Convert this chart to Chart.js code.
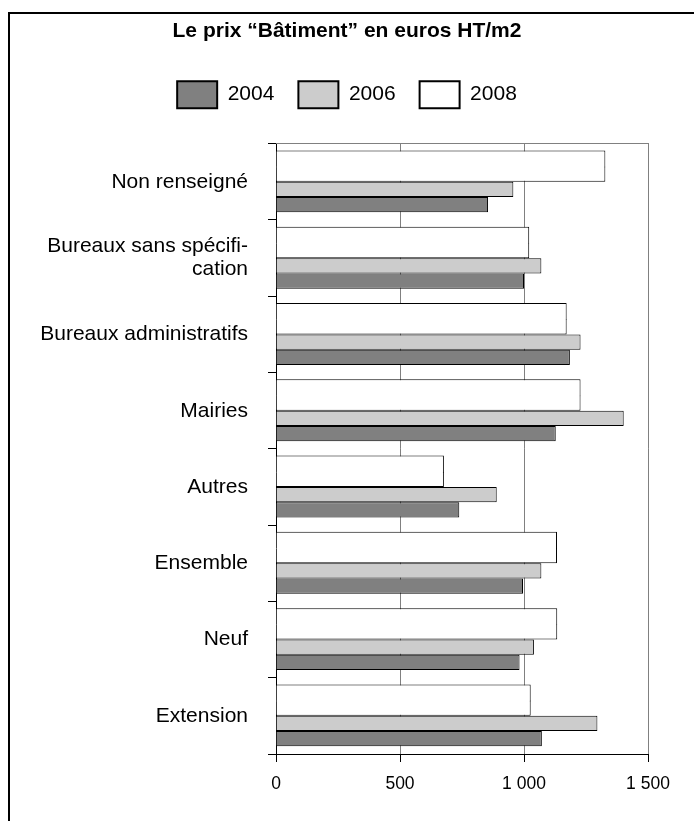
<!DOCTYPE html>
<html>
<head>
<meta charset="utf-8">
<script src="https://cdn.jsdelivr.net/npm/chart.js@4"></script>
<style>
  html, body { margin: 0; padding: 0; background: #fff; }
  #wrap { position: absolute; left: 0; top: 0; width: 694px; height: 821px; }
  #cadre { position: absolute; left: 8px; top: 12px; right: 0; bottom: 0;
           border-left: 2px solid #000; border-top: 2px solid #000; pointer-events: none; }
</style>
</head>
<body>
<div id="wrap"><canvas id="graficoPrix" width="694" height="821"></canvas></div>
<div id="cadre"></div>
<script>
const categories = ['Non renseigné', ['Bureaux sans spécifi-', 'cation'], 'Bureaux administratifs',
  'Mairies', 'Autres', 'Ensemble', 'Neuf', 'Extension'];
const valeurs2004 = [855, 1000, 1185, 1128, 739, 996, 982, 1072];
const valeurs2006 = [957, 1070, 1228, 1402, 890, 1070, 1040, 1296];
const valeurs2008 = [1328, 1021, 1172, 1228, 677, 1133, 1134, 1027];
const ticksX = [0, 500, 1000, 1500];

const police = 'Liberation Sans, Arial, Helvetica, sans-serif';

// 2008 is twice as thick in the original: two halves with the same values,
// the top half slightly taller so it covers the seam between them
const ctx = document.getElementById('graficoPrix').getContext('2d');
const grafico = new Chart(ctx, {
  type: 'bar',
  data: {
    labels: categories,
    datasets: [
      { label: '2008', data: valeurs2008, xAxisID: 'x', yAxisID: 'y', backgroundColor: '#ffffff', borderColor: '#000',
        barPercentage: 1.12, borderWidth: { top: 1, right: 1, bottom: 0, left: 1 } },
      { label: '2008', data: valeurs2008, xAxisID: 'x', yAxisID: 'y', backgroundColor: '#ffffff', borderColor: '#000',
        borderWidth: { top: 0, right: 1, bottom: 1, left: 1 } },
      { label: '2006', data: valeurs2006, xAxisID: 'x', yAxisID: 'y', backgroundColor: '#cccccc', borderColor: '#000', borderWidth: 1 },
      { label: '2004', data: valeurs2004, xAxisID: 'x', yAxisID: 'y', backgroundColor: '#808080', borderColor: '#000', borderWidth: 1 }
    ]
  },
  options: {
    indexAxis: 'y',
    responsive: false,
    animation: false,
    categoryPercentage: 0.8,
    barPercentage: 1,
    layout: { padding: 0 },
    plugins: {
      title: {
        display: true,
        text: 'Le prix “Bâtiment” en euros HT/m2',
        color: '#000',
        font: { family: police, size: 21, weight: 'bold' },
        padding: { top: 19, bottom: 13 }
      },
      legend: {
        display: true,
        reverse: true,
        labels: {
          color: '#000',
          font: { family: police, size: 21 },
          boxWidth: 40,
          boxHeight: 27,
          padding: 24,
          filter: (item) => item.datasetIndex !== 1,
          generateLabels: (chart) => {
            const items = Chart.defaults.plugins.legend.labels.generateLabels(chart);
            items.forEach(it => { it.lineWidth = 2; it.strokeStyle = '#000'; });
            return items;
          }
        }
      },
      tooltip: { enabled: false }
    },
    scales: {
      y: {
        afterFit: (s) => { s.width = 276; },
        grid: { drawOnChartArea: false, tickColor: '#000', tickLength: 8 },
        border: { color: '#000', width: 1 },
        ticks: {
          color: '#000',
          padding: 20,
          font: { family: police, size: 21, lineHeight: 1.1 }
        }
      },
      x: {
        min: 0,
        max: 1500,
        afterBuildTicks: (s) => { s.ticks = ticksX.map(v => ({ value: v })); },
        afterFit: (s) => { s.height = 67; },
        grid: { color: '#808080', tickColor: '#000', tickLength: 8, lineWidth: 1 },
        border: { color: '#000', width: 1 },
        ticks: {
          color: '#000',
          padding: 12,
          font: { family: police, size: 17.5 },
          callback: (v) => String(v).replace(/\B(?=(\d{3})+$)/g, ' ')
        }
      },
      xHaut: {
        type: 'linear',
        position: 'top',
        display: true,
        afterFit: (s) => { s.height = 25.5; },
        grid: { display: false, drawTicks: false },
        ticks: { display: false },
        border: { display: true, color: '#808080', width: 1 }
      },
      yDroite: {
        type: 'linear',
        position: 'right',
        display: true,
        afterFit: (s) => { s.width = 46; },
        grid: { display: false, drawTicks: false },
        ticks: { display: false },
        border: { display: false }
      }
    }
  }
});
</script>
</body>
</html>
